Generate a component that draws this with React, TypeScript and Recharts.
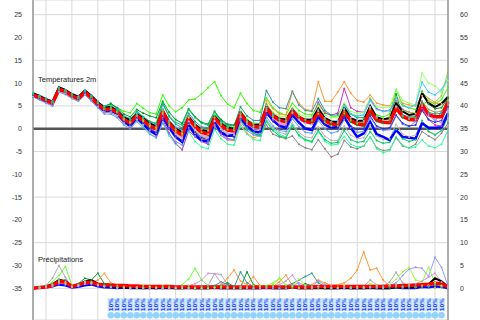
import React from 'react';
import {
    ComposedChart,
    Line,
    Scatter,
    XAxis,
    YAxis,
    CartesianGrid,
    ReferenceLine
} from 'recharts';

// 6-hourly steps, 0..64
const steps = [
    0, 1, 2, 3, 4, 5, 6, 7, 8, 9, 10, 11, 12, 13, 14, 15, 16, 17, 18, 19, 20, 21,
    22, 23, 24, 25, 26, 27, 28, 29, 30, 31, 32, 33, 34, 35, 36, 37, 38, 39, 40, 41,
    42, 43, 44, 45, 46, 47, 48, 49, 50, 51, 52, 53, 54, 55, 56, 57, 58, 59, 60, 61,
    62, 63, 64
];
const dayTicks = [2, 6, 10, 14, 18, 22, 26, 30, 34, 38, 42, 46, 50, 54, 58, 62];
const leftTicks = [-35, -30, -25, -20, -15, -10, -5, 0, 5, 10, 15, 20, 25];
const rightTicks = [0, 5, 10, 15, 20, 25, 30, 35, 40, 45, 50, 55, 60];

// Températures 2m (°C)
const tMean = [
    7.5, 6.8, 6.2, 5.6, 8.6, 8.2, 7.2, 6.6, 8.0, 6.8, 5.4, 4.2,
    4.3, 3.6, 2.0, 1.3, 2.8, 1.8, 0.6, 0.0,
    3.7, 1.2, -0.5, -1.4, 2.2, 0.5, -0.8, -1.2,
    2.3, 0.8, -0.3, -0.5, 3.2, 1.5, 0.5, 0.4,
    4.4, 2.8, 1.8, 1.5, 3.8, 2.5, 1.6, 1.3,
    3.5, 1.8, 1.0, 0.9, 3.6, 1.8, 1.0, 0.8,
    4.0, 1.9, 1.4, 1.3, 4.5, 2.7, 2.0, 1.9,
    5.2, 3.1, 2.6, 2.6, 5.9
];
const tOp = [
    7.3, 6.9, 6.3, 5.7, 8.8, 8.3, 7.3, 6.5, 8.2, 6.9, 5.2, 3.9,
    4.0, 3.3, 1.6, 0.6, 2.4, 1.0, -0.4, -1.2,
    2.6, 0.2, -1.8, -2.9, 0.8, -1.3, -2.6, -2.8,
    1.4, -0.8, -1.6, -1.4, 2.4, 0.6, -0.6, -0.8,
    3.6, 1.8, 0.6, 0.2, 3.0, 1.4, 0.0, -0.3,
    2.6, 0.9, 0.2, 0.4, 2.6, 0.2, -1.8, -1.0,
    1.5, -1.2, -1.8, -2.5, -0.3, -1.8, -2.0, -2.2,
    1.2, 0.2, 0.2, 0.3, 3.4
];
const tCtl = [
    7.8, 7.2, 6.5, 5.9, 9.1, 8.5, 7.6, 7.0, 8.4, 7.2, 5.8, 4.6,
    4.8, 3.9, 2.5, 1.8, 3.2, 2.3, 1.2, 0.5,
    4.0, 1.5, 0.0, -0.8, 2.6, 0.9, -0.3, -0.6,
    2.8, 1.1, 0.2, 0.0, 3.6, 1.8, 0.8, 0.9,
    4.8, 3.0, 2.2, 2.0, 4.2, 2.6, 2.0, 1.9,
    4.4, 2.4, 1.6, 1.4, 4.6, 2.3, 1.7, 1.8,
    5.0, 2.5, 2.1, 2.3, 5.6, 3.8, 3.0, 3.2,
    7.8, 5.6, 4.8, 5.5, 7.0
];
const t1 = [
    7.2, 6.5, 6.0, 5.2, 8.4, 8.0, 6.8, 6.2, 7.7, 6.6, 5.6, 4.8,
    5.2, 4.6, 3.8, 3.5, 5.5, 4.5, 3.5, 3.2,
    7.4, 5.0, 3.7, 4.6, 6.3, 6.5, 7.6, 9.0,
    10.3, 7.2, 5.4, 4.6, 7.8, 5.5, 4.0, 3.6,
    6.8, 4.6, 3.5, 3.0, 5.6, 4.0, 3.2, 3.0,
    5.4, 3.6, 2.8, 2.6, 4.4, 3.2, 2.5, 2.4,
    4.2, 3.0, 2.6, 3.2, 8.6, 5.2, 4.6, 4.2,
    5.4, 6.0, 5.4, 6.4, 9.0
];
const t2 = [
    7.6, 7.0, 6.4, 5.8, 8.7, 8.3, 7.4, 6.9, 8.3, 7.1, 5.7, 4.5,
    4.6, 3.9, 2.3, 1.6, 3.0, 2.0, 0.8, 0.3,
    3.4, 0.8, -1.0, -1.8, 1.0, -1.0, -2.2, -2.6,
    0.8, -1.5, -2.5, -2.6, 1.0, -1.0, -2.0, -1.5,
    6.2, 4.4, 3.2, 3.0, 8.0, 5.6, 4.2, 4.0,
    10.3, 6.0, 6.0, 8.0, 10.3, 7.8, 6.2, 5.8,
    7.4, 5.6, 5.2, 5.0, 7.0, 5.6, 5.2, 5.0,
    7.2, 6.0, 5.6, 5.4, 6.2
];
const t3 = [
    7.0, 6.4, 5.8, 5.2, 8.1, 7.7, 6.8, 6.2, 7.5, 6.2, 4.8, 3.6,
    3.5, 2.8, 1.2, 0.4, 1.9, 0.8, -0.4, -1.0,
    2.4, 0.0, -1.8, -2.6, 1.2, -0.6, -1.8, -2.0,
    1.6, -0.2, -1.2, -1.4, 2.2, 0.2, -1.0, -1.6,
    0.8, -1.2, -1.8, -2.2, -1.6, -3.4, -4.2, -4.6,
    -2.4, -4.4, -6.2, -5.6, -2.6, -4.0, -4.4, -3.8,
    -1.8, -4.2, -4.8, -4.6, -2.0, -3.8, -4.2, -3.4,
    -0.6, -1.6, -2.4, -1.0, 1.2
];
const t4 = [
    7.4, 6.8, 6.1, 5.4, 8.3, 7.9, 7.0, 6.4, 7.9, 6.5, 5.0, 3.8,
    3.8, 3.0, 1.4, 0.6, 2.0, 0.6, -1.0, -2.0,
    1.4, -1.6, -3.4, -4.6, -0.6, -2.8, -4.0, -4.4,
    -0.2, -2.2, -3.4, -3.6, 0.6, -1.2, -2.4, -2.6,
    2.0, 0.0, -1.2, -1.8, 1.0, -1.6, -2.6, -3.0,
    -0.6, -2.8, -3.6, -3.4, -1.7, -3.4, -4.0, -3.8,
    -1.8, -4.4, -5.3, -4.8, -1.7, -3.6, -4.3, -4.0,
    -2.5, -3.8, -4.2, -3.4, -0.3
];
const t5 = [
    7.1, 6.5, 5.8, 5.1, 8.4, 7.9, 6.9, 6.2, 7.6, 6.4, 4.9, 3.6,
    3.8, 3.0, 1.4, 0.5, 2.2, 0.9, -0.6, -1.6,
    2.0, -1.0, -3.2, -4.6, -0.4, -1.8, -2.8, -3.4,
    0.6, -1.0, -2.2, -2.4, 1.8, 0.2, -0.8, -1.0,
    3.2, 1.8, 0.8, 0.8, 4.4, 2.8, 2.0, 2.2,
    5.8, 3.4, 3.0, 3.4, 8.8, 4.6, 3.8, 3.6,
    6.6, 4.4, 3.8, 4.0, 6.2, 4.2, 3.6, 3.2,
    4.4, 2.0, 0.8, 0.6, 2.6
];
const t6 = [
    7.0, 6.3, 5.6, 5.0, 8.0, 7.5, 6.6, 6.0, 7.4, 6.0, 4.6, 3.2,
    3.2, 2.4, 0.8, 0.0, 1.6, 0.2, -1.2, -2.0,
    1.2, -1.2, -2.8, -3.6, 0.2, -1.6, -2.8, -3.0,
    0.6, -1.4, -2.4, -2.4, 1.6, -0.4, -1.4, -1.6,
    2.6, 0.6, -0.4, -0.6, 2.2, 0.4, -0.8, -1.0,
    1.8, 0.0, -1.0, -0.6, 2.0, 0.2, -0.8, -0.6,
    2.4, 0.4, -0.4, -0.2, 2.8, 1.0, 0.4, 1.6,
    6.0, 3.2, 1.6, 3.8, 4.4
];
const t7 = [
    7.8, 7.3, 6.6, 6.0, 8.9, 8.5, 7.5, 6.9, 8.4, 7.4, 6.0, 4.8,
    5.6, 4.4, 2.8, 2.2, 3.6, 2.6, 1.6, 1.0,
    5.4, 2.6, 1.0, 0.2, 3.4, 1.6, 0.4, 0.2,
    3.6, 1.8, 0.8, 0.6, 4.8, 2.8, 1.8, 1.8,
    8.4, 5.8, 4.6, 4.4, 8.2, 5.2, 4.0, 3.8,
    6.6, 4.0, 3.0, 3.0, 5.4, 3.2, 2.4, 2.4,
    4.6, 2.6, 2.0, 2.2, 5.0, 3.0, 2.6, 2.6,
    5.6, 3.6, 3.2, 3.4, 6.6
];
const t8 = [
    7.5, 6.9, 6.3, 5.7, 8.8, 8.3, 7.2, 6.6, 8.1, 7.0, 5.8, 5.0,
    5.4, 4.6, 3.2, 2.6, 4.2, 3.4, 2.8, 2.4,
    6.0, 3.6, 2.0, 1.2, 4.4, 2.6, 1.4, 1.0,
    3.8, 2.0, 1.0, 0.8, 3.8, 2.0, 1.2, 1.0,
    4.6, 2.8, 2.0, 1.8, 4.0, 2.6, 1.8, 1.6,
    3.4, 1.6, 0.8, 0.8, 3.0, 1.4, 0.8, 0.6,
    3.2, 1.6, 1.2, 1.4, 7.6, 2.4, 2.2, 2.6,
    8.2, 5.4, 4.4, 4.6, 6.8
];
const t9 = [
    7.3, 6.7, 6.0, 5.4, 8.5, 8.0, 7.0, 6.4, 7.9, 6.7, 5.3, 4.1,
    4.2, 3.5, 2.0, 1.4, 2.8, 1.6, 0.4, -0.2,
    3.6, 1.0, -0.6, -1.4, 2.4, 0.6, -0.8, -1.2,
    2.4, 0.8, -0.2, -0.4, 3.0, 1.4, 0.4, 0.2,
    4.2, 2.6, 1.6, 1.4, 3.4, 2.0, 1.2, 1.0,
    3.2, 1.4, 0.6, 0.6, 3.4, 1.8, 1.2, 1.4,
    4.8, 2.4, 2.0, 2.6, 6.0, 4.0, 3.6, 3.4,
    8.0, 6.6, 5.8, 7.2, 12.6
];
const t10 = [
    7.6, 6.9, 6.2, 5.6, 8.7, 8.2, 7.1, 6.5, 8.0, 6.9, 5.5, 4.3,
    4.4, 3.7, 2.1, 1.4, 2.9, 1.9, 0.8, 0.2,
    4.0, 1.4, -0.2, -1.0, 2.6, 1.0, -0.2, -0.4,
    3.2, 1.4, 0.4, 0.4, 4.0, 2.2, 1.2, 1.2,
    5.2, 3.6, 2.8, 2.6, 4.6, 3.2, 2.6, 2.6,
    5.0, 3.0, 2.4, 2.6, 5.6, 3.8, 3.4, 3.6,
    6.8, 4.8, 4.6, 4.8, 8.6, 6.2, 5.6, 5.2,
    12.2, 10.0, 9.4, 8.0, 10.6
];
const t11 = [
    7.9, 7.3, 6.7, 6.1, 9.0, 8.5, 7.6, 7.1, 8.5, 7.3, 6.0, 4.9,
    5.0, 4.2, 2.7, 2.0, 3.4, 2.4, 1.2, 0.6,
    4.4, 1.8, 0.4, -0.4, 3.0, 1.2, 0.0, -0.2,
    3.0, 1.2, 0.2, 0.0, 3.4, 1.6, 0.6, 0.4,
    4.6, 3.0, 2.0, 1.8, 4.2, 2.8, 2.0, 1.8,
    4.0, 2.4, 1.6, 1.8, 4.8, 3.2, 2.8, 3.0,
    6.2, 4.2, 3.8, 4.0, 6.8, 5.0, 4.6, 5.2,
    10.2, 8.0, 7.4, 8.6, 11.0
];
const t12 = [
    7.2, 6.6, 5.9, 5.3, 8.2, 7.8, 6.9, 6.3, 7.7, 6.5, 5.1, 3.9,
    4.0, 3.2, 1.7, 1.0, 2.5, 1.2, 0.0, -0.6,
    3.0, 0.4, -1.2, -2.0, 1.6, -0.2, -1.4, -1.8,
    1.6, 0.0, -1.0, -1.0, 2.6, 1.0, 0.0, -0.2,
    3.8, 2.2, 1.2, 1.0, 3.6, 2.0, 1.2, 1.0,
    3.8, 2.0, 1.4, 1.4, 4.2, 2.4, 1.8, 1.8,
    4.6, 2.6, 2.0, 2.0, 4.8, 2.8, 2.2, 2.0,
    5.0, 2.8, 2.0, 1.2, 3.8
];
const t13 = [
    7.2, 6.6, 6.0, 5.4, 8.3, 7.8, 6.8, 6.2, 7.6, 6.4, 5.0, 3.7,
    3.7, 2.9, 1.3, 0.6, 2.1, 0.9, -0.2, -0.8,
    2.8, 0.2, -1.4, -2.2, 1.6, -0.4, -1.6, -2.0,
    1.8, -0.2, -1.2, -1.4, 2.4, 0.4, -0.8, -1.0,
    2.0, 0.2, -0.8, -1.2, 1.2, -0.8, -1.8, -2.0,
    0.4, -1.6, -2.6, -2.6, 0.6, -1.4, -2.2, -2.0,
    0.8, -1.6, -2.4, -2.2, 1.0, -1.2, -1.8, -1.4,
    1.6, -0.6, -1.2, -0.4, 2.4
];
const t14 = [
    7.4, 6.7, 6.0, 5.4, 8.5, 8.0, 7.0, 6.4, 7.8, 6.6, 5.2, 4.0,
    4.0, 3.2, 1.6, 0.8, 2.4, 1.2, 0.0, -0.8,
    2.8, 0.2, -1.6, -2.6, 1.2, -0.8, -2.0, -2.4,
    1.2, -0.6, -1.6, -1.8, 2.2, 0.4, -0.6, -0.8,
    3.4, 1.6, 0.6, 0.4, 3.0, 1.2, 0.2, 0.0,
    2.6, 0.8, 0.0, 0.2, 2.6, 0.6, -0.2, 0.0,
    2.8, 0.6, 0.0, 0.2, 3.0, 1.2, 0.6, 0.8,
    4.0, 2.0, 1.4, 1.8, 4.8
];
const t15 = [
    7.6, 7.0, 6.4, 5.8, 8.6, 8.1, 7.2, 6.7, 8.2, 7.0, 5.6, 4.4,
    4.4, 3.6, 2.2, 1.6, 3.0, 2.0, 1.0, 0.4,
    3.8, 1.4, 0.0, -0.6, 2.8, 1.0, 0.0, -0.2,
    2.8, 1.0, 0.2, 0.0, 3.4, 1.8, 1.0, 1.0,
    5.4, 3.4, 2.4, 2.2, 4.4, 2.8, 2.0, 1.8,
    4.2, 2.2, 1.4, 1.2, 3.8, 2.0, 1.4, 1.4,
    4.4, 2.4, 2.0, 2.0, 4.6, 2.8, 2.4, 2.4,
    6.0, 4.2, 3.6, 3.8, 6.0
];
const t16 = [
    7.7, 7.1, 6.5, 5.9, 8.9, 8.4, 7.4, 6.8, 8.2, 7.1, 5.8, 4.6,
    4.8, 4.0, 2.6, 2.0, 3.8, 2.6, 1.6, 1.2,
    5.6, 2.8, 1.4, 0.8, 4.2, 2.4, 1.2, 0.8,
    3.6, 1.6, 0.6, 0.2, 2.0, 0.0, -1.0, -1.4,
    1.6, -0.4, -1.6, -2.0, 0.6, -1.4, -2.4, -2.8,
    -0.4, -2.4, -3.2, -3.0, -0.4, -2.4, -3.0, -2.8,
    -0.6, -2.6, -3.2, -3.0, -0.2, -2.2, -2.8, -2.4,
    1.8, -0.6, -1.4, -0.4, 2.8
];

// Précipitations (mm)
const pMean = [
    0.0, 0.2, 0.3, 0.6, 1.5, 1.4, 0.4, 0.8, 1.2, 1.3, 0.9, 0.8,
    0.7, 0.6, 0.6, 0.5, 0.5, 0.4, 0.4, 0.4,
    0.4, 0.4, 0.3, 0.3, 0.3, 0.3, 0.3, 0.3,
    0.3, 0.3, 0.3, 0.3, 0.3, 0.3, 0.3, 0.3,
    0.3, 0.3, 0.3, 0.3, 0.3, 0.3, 0.3, 0.3,
    0.4, 0.4, 0.4, 0.4, 0.4, 0.4, 0.4, 0.4,
    0.4, 0.4, 0.4, 0.5, 0.5, 0.6, 0.6, 0.7,
    0.8, 0.9, 1.1, 1.0, 0.3
];
const pOp = [
    0.0, 0.1, 0.2, 0.4, 0.8, 0.6, 0.1, 0.3, 0.6, 0.8, 0.4, 0.2,
    0.1, 0.0, 0.1, 0.0, 0.0, 0.0, 0.0, 0.0,
    0.0, 0.0, 0.0, 0.0, 0.0, 0.0, 0.0, 0.0,
    0.0, 0.0, 0.0, 0.0, 0.0, 0.0, 0.0, 0.0,
    0.0, 0.0, 0.0, 0.0, 0.1, 0.0, 0.0, 0.0,
    0.2, 0.0, 0.0, 0.0, 0.0, 0.0, 0.0, 0.0,
    0.0, 0.0, 0.0, 0.0, 0.2, 0.0, 0.0, 0.0,
    0.3, 0.2, 0.4, 0.3, 0.0
];
const pCtl = [
    0.0, 0.2, 0.4, 0.9, 1.8, 1.6, 0.3, 0.7, 1.5, 1.8, 1.0, 0.6,
    0.5, 0.3, 0.2, 0.2, 0.1, 0.0, 0.1, 0.0,
    0.2, 0.1, 0.0, 0.0, 0.1, 0.0, 0.0, 0.0,
    0.1, 0.0, 0.0, 0.0, 0.0, 0.0, 0.0, 0.0,
    0.2, 0.0, 0.0, 0.0, 0.1, 0.0, 0.0, 0.0,
    0.0, 0.0, 0.0, 0.0, 0.1, 0.0, 0.0, 0.0,
    0.1, 0.0, 0.0, 0.0, 0.3, 0.2, 0.2, 0.4,
    0.6, 0.9, 2.2, 1.5, 0.4
];
const p1 = [
    0.0, 0.3, 0.5, 1.4, 2.8, 4.8, 0.6, 0.9, 1.4, 1.2, 0.8, 0.6,
    0.3, 0.2, 0.1, 0.2, 0.3, 0.6, 0.4, 0.2,
    0.5, 0.4, 0.2, 0.8, 2.0, 4.4, 1.8, 0.6,
    0.2, 0.1, 0.0, 0.2, 0.4, 0.2, 0.0, 0.0,
    0.4, 0.8, 2.2, 0.6, 0.2, 0.0, 0.0, 0.2,
    0.3, 0.1, 0.0, 0.0, 0.2, 0.0, 0.0, 0.1,
    0.2, 0.0, 0.2, 0.4, 0.6, 0.4, 0.2, 0.3,
    0.4, 0.6, 0.8, 0.4, 0.1
];
const p2 = [
    0.0, 0.2, 0.6, 2.2, 5.0, 2.4, 0.3, 0.9, 1.6, 1.4, 0.8, 0.4,
    0.4, 0.2, 0.2, 0.0, 0.2, 0.2, 0.0, 0.0,
    0.1, 0.2, 0.0, 0.0, 0.0, 0.2, 0.4, 0.6,
    3.2, 3.0, 0.8, 0.4, 0.2, 0.0, 0.0, 0.2,
    0.4, 0.2, 0.0, 0.0, 0.0, 0.0, 0.2, 0.0,
    0.0, 0.2, 0.0, 0.0, 0.4, 0.2, 0.0, 0.4,
    1.8, 0.8, 0.4, 1.4, 3.5, 1.2, 0.4, 0.2,
    0.4, 0.6, 0.8, 0.4, 0.1
];
const p3 = [
    0.0, 0.1, 0.4, 0.8, 2.0, 1.5, 0.5, 1.0, 2.2, 1.8, 3.3, 1.0,
    0.6, 0.4, 0.2, 0.2, 0.1, 0.0, 0.2, 0.0,
    0.0, 0.2, 0.0, 0.0, 0.2, 0.0, 0.0, 0.2,
    0.4, 0.6, 1.2, 0.4, 0.2, 3.6, 0.8, 0.2,
    0.4, 0.2, 0.0, 0.0, 0.2, 0.4, 1.0, 0.6,
    0.2, 0.0, 0.0, 0.2, 0.0, 0.0, 0.2, 0.0,
    0.0, 0.4, 0.2, 0.0, 0.2, 0.6, 0.2, 0.4,
    0.6, 0.4, 0.2, 0.3, 0.0
];
const p4 = [
    0.0, 0.1, 0.2, 0.5, 1.2, 1.0, 0.3, 0.6, 1.0, 1.4, 1.8, 3.3,
    1.2, 0.6, 0.4, 0.2, 0.1, 0.0, 0.0, 0.2,
    0.0, 0.0, 0.1, 0.0, 0.0, 0.2, 0.0, 0.0,
    0.2, 0.8, 2.2, 4.0, 1.6, 0.8, 2.6, 0.6,
    0.2, 0.4, 1.4, 2.9, 0.6, 0.2, 0.0, 0.8,
    1.8, 1.2, 0.6, 0.8, 1.2, 2.2, 4.0, 8.0,
    4.0, 4.4, 1.8, 0.6, 0.4, 0.2, 0.8, 0.4,
    0.6, 0.4, 0.2, 0.3, 0.1
];
const p5 = [
    0.0, 0.2, 0.3, 0.6, 1.6, 1.8, 0.5, 0.8, 1.4, 1.2, 0.9, 0.6,
    0.4, 0.2, 0.2, 0.1, 0.0, 0.2, 0.0, 0.0,
    0.0, 0.0, 0.2, 0.0, 0.0, 0.0, 0.2, 0.4,
    0.6, 1.4, 0.8, 0.2, 3.6, 1.2, 0.4, 0.2,
    0.2, 0.0, 0.2, 0.6, 1.0, 1.8, 2.6, 3.3,
    1.2, 0.4, 0.2, 0.0, 0.2, 0.4, 0.2, 0.0,
    0.2, 0.0, 0.6, 0.4, 0.2, 0.0, 0.2, 0.4,
    0.2, 0.4, 0.6, 0.2, 0.0
];
const p6 = [
    0.0, 0.1, 0.2, 0.4, 1.0, 0.8, 0.2, 0.4, 0.9, 1.0, 0.6, 0.4,
    0.2, 0.1, 0.0, 0.0, 0.2, 0.0, 0.0, 0.0,
    0.0, 0.0, 0.0, 0.2, 0.0, 0.0, 0.0, 0.0,
    0.2, 0.0, 0.0, 0.0, 0.0, 0.2, 0.0, 0.0,
    0.0, 0.0, 0.0, 0.0, 0.6, 1.2, 0.6, 0.4,
    1.6, 0.8, 0.2, 0.0, 0.0, 0.0, 0.0, 0.2,
    0.4, 0.2, 0.0, 0.6, 1.2, 2.8, 4.2, 4.6,
    4.4, 2.6, 6.8, 4.6, 0.5
];
const p7 = [
    0.0, 0.2, 0.4, 0.9, 1.6, 1.2, 0.4, 0.6, 1.4, 1.1, 0.7, 0.4,
    0.3, 0.2, 0.2, 0.0, 0.0, 0.2, 0.4, 0.2,
    0.0, 0.0, 0.0, 0.0, 0.2, 0.0, 0.0, 0.0,
    0.2, 0.4, 0.2, 0.0, 0.0, 0.2, 0.6, 0.4,
    0.6, 1.2, 2.2, 0.8, 0.4, 2.0, 0.6, 0.2,
    0.4, 0.2, 0.0, 0.2, 0.6, 0.2, 0.4, 0.2,
    1.0, 0.6, 0.2, 0.8, 2.0, 3.6, 4.6, 1.8,
    1.4, 4.6, 1.2, 0.6, 0.1
];
const p8 = [
    0.0, 0.1, 0.3, 0.7, 1.8, 1.4, 0.3, 0.7, 1.2, 1.0, 0.6, 0.5,
    0.3, 0.2, 0.0, 0.0, 0.2, 0.0, 0.0, 0.0,
    0.0, 0.0, 0.2, 0.4, 0.6, 1.0, 1.8, 3.3,
    3.2, 1.2, 0.4, 0.2, 0.4, 0.2, 0.0, 0.0,
    0.2, 0.4, 0.8, 1.6, 2.9, 0.8, 0.4, 0.2,
    0.4, 0.2, 0.0, 0.0, 0.2, 0.0, 0.2, 0.0,
    0.2, 0.4, 0.2, 0.6, 0.8, 0.4, 0.6, 1.0,
    1.6, 2.4, 3.3, 1.4, 0.2
];

// bottom row labels (steps 12..63)
const bandSteps = [
    12, 13, 14, 15, 16, 17, 18, 19, 20, 21, 22, 23, 24, 25, 26, 27, 28, 29, 30, 31,
    32, 33, 34, 35, 36, 37, 38, 39, 40, 41, 42, 43, 44, 45, 46, 47, 48, 49, 50, 51,
    52, 53, 54, 55, 56, 57, 58, 59, 60, 61, 62, 63
];
const bandText = '10%';

const tempMembers = [
    { key: 't1', color: '#33ff00', values: t1 },
    { key: 't2', color: '#ff9933', values: t2 },
    { key: 't3', color: '#888888', values: t3 },
    { key: 't4', color: '#33ff99', values: t4 },
    { key: 't5', color: '#cc33cc', values: t5 },
    { key: 't6', color: '#6699ff', values: t6 },
    { key: 't7', color: '#339999', values: t7 },
    { key: 't8', color: '#009933', values: t8 },
    { key: 't9', color: '#99cc33', values: t9 },
    { key: 't10', color: '#99ff66', values: t10 },
    { key: 't11', color: '#33ccff', values: t11 },
    { key: 't12', color: '#cc99ff', values: t12 },
    { key: 't13', color: '#bbbbbb', values: t13 },
    { key: 't14', color: '#3333cc', values: t14 },
    { key: 't15', color: '#999933', values: t15 },
    { key: 't16', color: '#00cc66', values: t16 }
];
const precipMembers = [
    { key: 'p1', color: '#66ff33', values: p1 },
    { key: 'p2', color: '#aaaaaa', values: p2 },
    { key: 'p3', color: '#009933', values: p3 },
    { key: 'p4', color: '#ff9933', values: p4 },
    { key: 'p5', color: '#339999', values: p5 },
    { key: 'p6', color: '#9999ff', values: p6 },
    { key: 'p7', color: '#99ff33', values: p7 },
    { key: 'p8', color: '#cc99cc', values: p8 }
];

const data = steps.map((i) => {
    const row: any = { i, tMean: tMean[i], tOp: tOp[i], tCtl: tCtl[i], pMean: pMean[i], pOp: pOp[i], pCtl: pCtl[i] };
    tempMembers.forEach((s) => { row[s.key] = s.values[i]; });
    precipMembers.forEach((s) => { row[s.key] = s.values[i]; });
    return row;
});

const bandRows = bandSteps.map((i) => ({ i, lab: -38.6, text: bandText }));
const flakeRows = bandSteps.map((i) => ({ i, flake: -40.9 }));

const tickStyle = { fontSize: 7, fill: '#333', fontFamily: 'Liberation Sans' };

const BandLabel = (props: any) => {
    const { cx, cy, payload } = props;
    return (
        <g>
            <rect x={cx - 3.2} y={cy - 6.5} width={6.4} height={13} fill="#c6e6ff" />
            <text
                transform={`translate(${cx + 2}, ${cy}) rotate(-90)`}
                textAnchor="middle"
                fontSize={5.5}
                fontWeight="bold"
                fill="#2a3cf0"
                fontFamily="DejaVu Sans"
            >
                {payload.text}
            </text>
        </g>
    );
};

const Flake = (props: any) => {
    const { cx, cy } = props;
    return <circle cx={cx} cy={cy} r={3.3} fill="#93d4ff" />;
};

const memberLine = (s: { key: string; color: string }, axis: string) => (
    <Line
        key={s.key}
        yAxisId={axis}
        type="linear"
        dataKey={s.key}
        stroke={s.color}
        strokeWidth={1}
        dot={{ r: 1, fill: s.color, stroke: s.color, strokeWidth: 0 }}
        activeDot={false}
        isAnimationActive={false}
    />
);

export default function App() {
    return (
        <div style={{ position: 'absolute', left: 0, top: 0, width: 480, height: 320, background: '#fff' }}>
            <ComposedChart width={480} height={320} data={data} margin={{ top: 0, right: 0, bottom: 0, left: 0 }}>
                <CartesianGrid yAxisId="left" stroke="#d9d9d9" strokeWidth={1} />
                <XAxis dataKey="i" type="number" domain={[0, 64]} ticks={dayTicks} hide />
                <YAxis
                    yAxisId="left"
                    domain={[-41.95, 28.22]}
                    ticks={leftTicks}
                    allowDataOverflow
                    width={33}
                    axisLine={{ stroke: '#999', strokeWidth: 1.5 }}
                    tickLine={false}
                    tickSize={0}
                    tickMargin={11}
                    tick={tickStyle}
                />
                <YAxis
                    yAxisId="right"
                    orientation="right"
                    domain={[-6.95, 63.22]}
                    ticks={rightTicks}
                    allowDataOverflow
                    width={32}
                    axisLine={{ stroke: '#999', strokeWidth: 1.5 }}
                    tickLine={false}
                    tickSize={0}
                    tickMargin={12}
                    tick={tickStyle}
                />
                <ReferenceLine yAxisId="left" y={0} stroke="#555" strokeWidth={2.5} />
                {tempMembers.map((s) => memberLine(s, 'left'))}
                <Line yAxisId="left" type="linear" dataKey="tOp" stroke="#0000ff" strokeWidth={2.5} dot={false} activeDot={false} isAnimationActive={false} />
                <Line yAxisId="left" type="linear" dataKey="tCtl" stroke="#000" strokeWidth={2} dot={false} activeDot={false} isAnimationActive={false} />
                <Line yAxisId="left" type="linear" dataKey="tMean" stroke="#ff0000" strokeWidth={3.5} dot={false} activeDot={false} isAnimationActive={false} />
                {precipMembers.map((s) => memberLine(s, 'right'))}
                <Line yAxisId="right" type="linear" dataKey="pOp" stroke="#0000ff" strokeWidth={2} dot={false} activeDot={false} isAnimationActive={false} />
                <Line yAxisId="right" type="linear" dataKey="pCtl" stroke="#000" strokeWidth={2} dot={false} activeDot={false} isAnimationActive={false} />
                <Line yAxisId="right" type="linear" dataKey="pMean" stroke="#ff0000" strokeWidth={3.5} dot={false} activeDot={false} isAnimationActive={false} />
                <Scatter yAxisId="left" data={flakeRows} dataKey="flake" shape={<Flake />} isAnimationActive={false} />
                <Scatter yAxisId="left" data={bandRows} dataKey="lab" shape={<BandLabel />} isAnimationActive={false} />
            </ComposedChart>
            <div style={{ position: 'absolute', left: 38, top: 75, fontSize: 7.5, fontFamily: 'Liberation Sans', color: '#222' }}>
                Températures 2m
            </div>
            <div style={{ position: 'absolute', left: 38, top: 255, fontSize: 7.5, fontFamily: 'Liberation Sans', color: '#222' }}>
                Précipitations
            </div>
        </div>
    );
}
